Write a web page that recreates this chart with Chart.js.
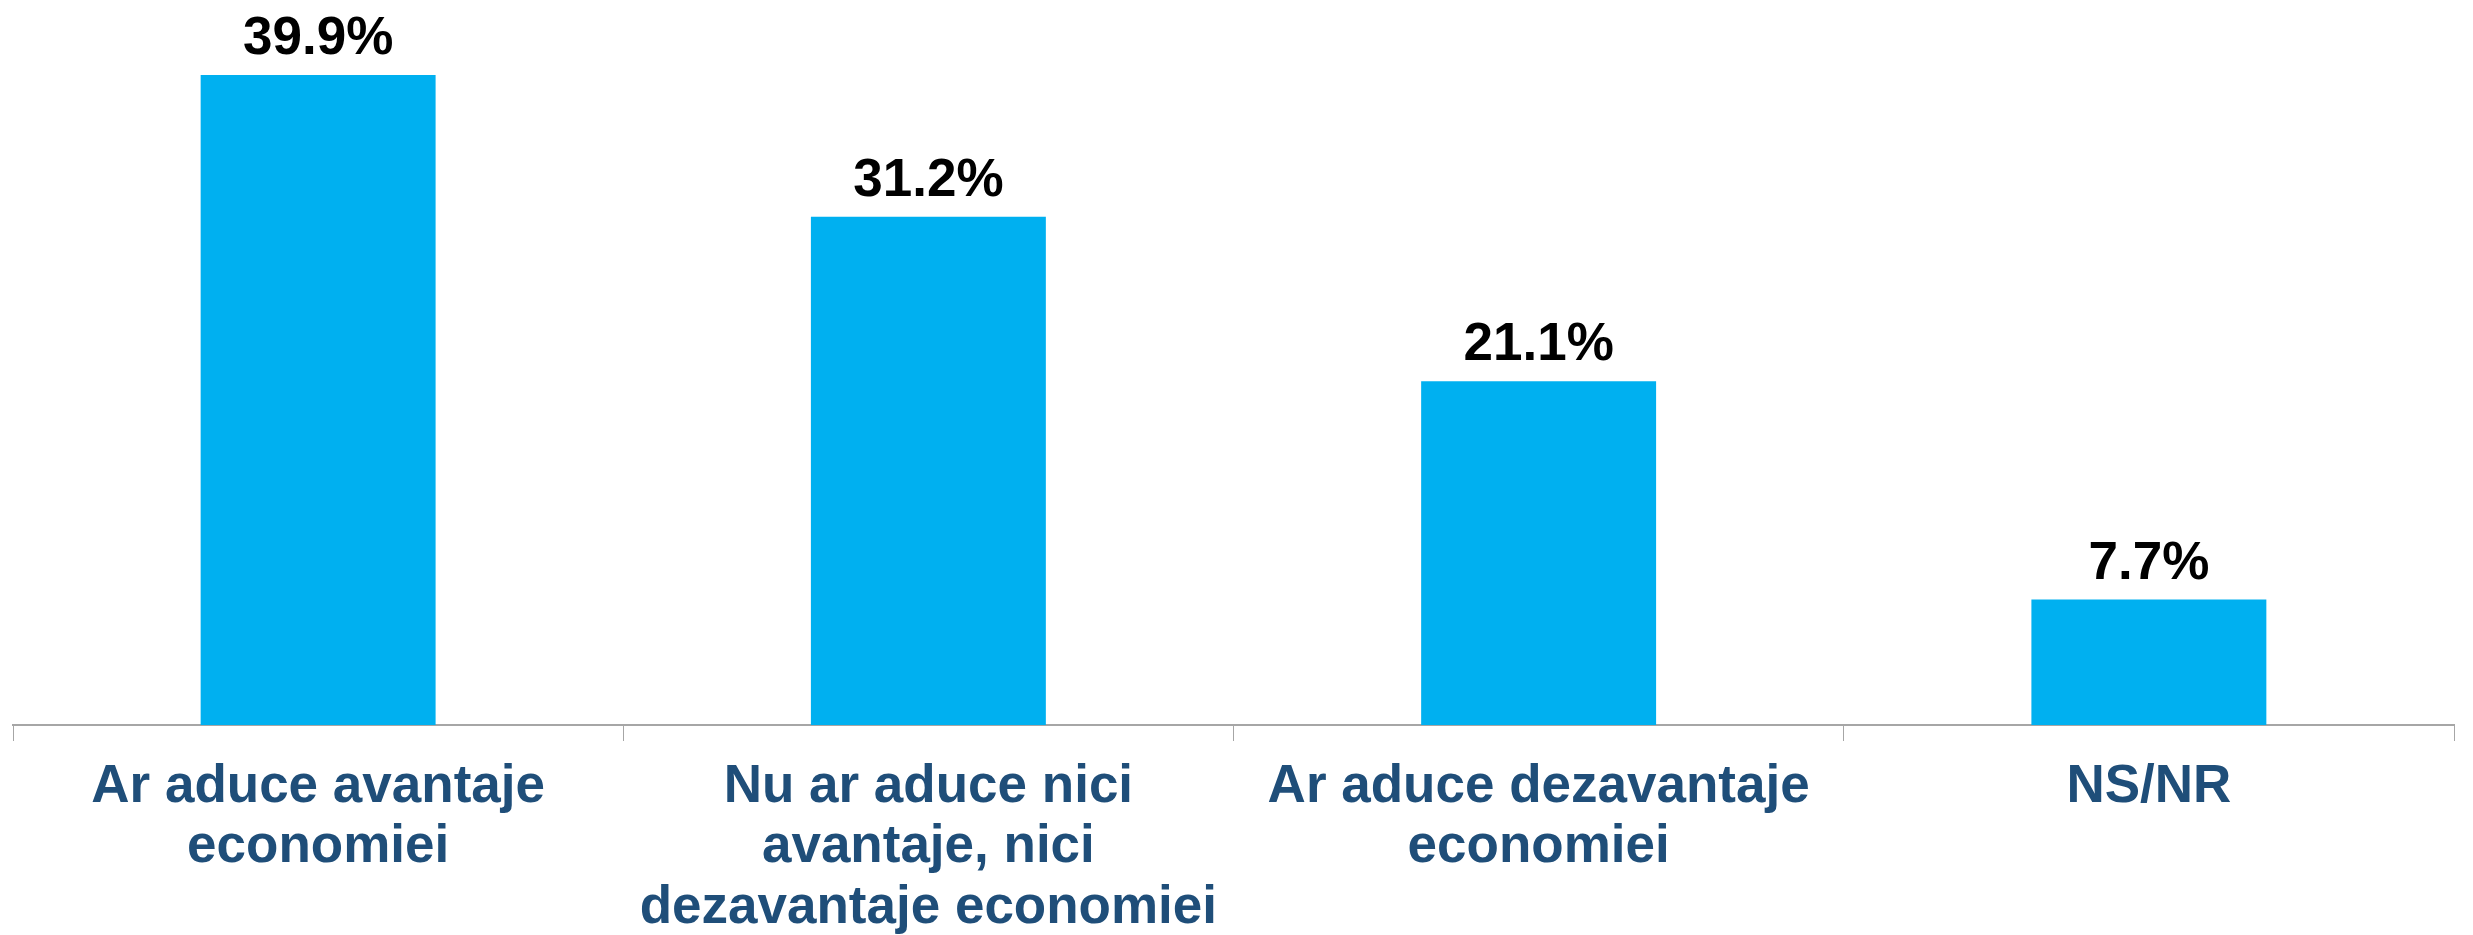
<!DOCTYPE html>
<html>
<head>
<meta charset="utf-8">
<script src="https://cdn.jsdelivr.net/npm/chart.js@4.4.1/dist/chart.umd.min.js"></script>
<style>
  body { margin: 0; background: #fff; }
  #wrap { width: 2473px; height: 935px; position: relative; }
</style>
</head>
<body>
<div id="wrap"><canvas id="myChart"></canvas></div>
<script>
const categories = [
  ['Ar aduce avantaje', 'economiei'],
  ['Nu ar aduce nici', 'avantaje, nici', 'dezavantaje economiei'],
  ['Ar aduce dezavantaje', 'economiei'],
  'NS/NR'
];
const values = [39.9, 31.2, 21.1, 7.7];
const valueLabels = ['39.9%', '31.2%', '21.1%', '7.7%'];

// draws the percentage above each bar
const barValues = {
  id: 'barValues',
  afterDatasetsDraw(chart) {
    const ctx = chart.ctx;
    const meta = chart.getDatasetMeta(0);
    ctx.save();
    ctx.font = 'bold 53px "Liberation Sans", Arial, sans-serif';
    ctx.fillStyle = '#000000';
    ctx.textAlign = 'center';
    ctx.textBaseline = 'alphabetic';
    meta.data.forEach((bar, i) => {
      ctx.fillText(valueLabels[i], bar.x, bar.y - 21);
    });
    ctx.restore();
  }
};

new Chart(document.getElementById('myChart').getContext('2d'), {
  type: 'bar',
  data: {
    labels: categories,
    datasets: [{
      data: values,
      backgroundColor: '#00B0F0',
      borderWidth: 0,
      categoryPercentage: 1,
      barPercentage: 0.385
    }]
  },
  options: {
    responsive: true,
    maintainAspectRatio: false,
    animation: false,
    layout: { padding: { left: 13, right: 19, top: 0, bottom: 0 } },
    plugins: {
      legend: { display: false },
      tooltip: { enabled: false }
    },
    scales: {
      x: {
        offset: true,
        afterFit(scale) { scale.height = 210; },
        grid: {
          offset: true,
          drawOnChartArea: false,
          drawTicks: true,
          tickLength: 16,
          color: '#A6A6A6',
          lineWidth: 1
        },
        border: { display: true, color: '#A6A6A6', width: 2 },
        ticks: {
          color: '#1F4E79',
          padding: 16,
          maxRotation: 0,
          autoSkip: false,
          font: { family: '"Liberation Sans", Arial, sans-serif', weight: 'bold', size: 53, lineHeight: 1.14 }
        }
      },
      y: {
        display: false,
        min: 0,
        max: 44.5
      }
    }
  },
  plugins: [barValues]
});
</script>
</body>
</html>
